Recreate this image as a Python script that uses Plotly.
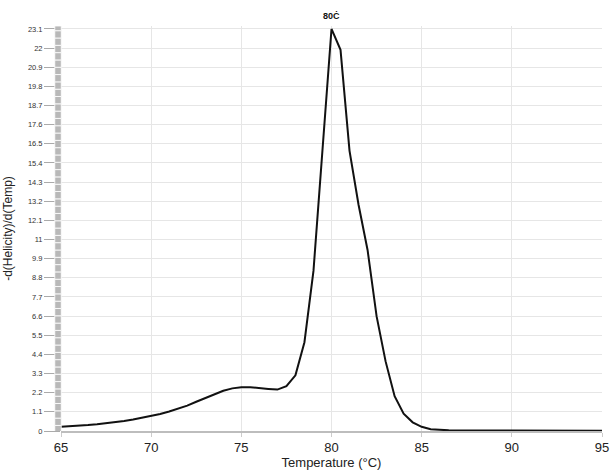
import plotly.graph_objects as go

temperature = [65, 65.5, 66, 66.5, 67, 67.5, 68, 68.5, 69, 69.5, 70, 70.5, 71, 71.5, 72, 72.5,
               73, 73.5, 74, 74.5, 75, 75.5, 76, 76.5, 77, 77.5, 78, 78.5, 79, 79.5, 80, 80.5,
               81, 81.5, 82, 82.5, 83, 83.5, 84, 84.5, 85, 85.5, 86, 86.5, 87, 87.5, 88, 88.5,
               89, 89.5, 90, 90.5, 91, 91.5, 92, 92.5, 93, 93.5, 94, 94.5, 95]
dhelicity = [0.25, 0.27, 0.30, 0.34, 0.39, 0.44, 0.50, 0.58, 0.66, 0.76, 0.86, 0.98, 1.12, 1.28, 1.46, 1.68,
             1.90, 2.12, 2.31, 2.45, 2.52, 2.52, 2.49, 2.42, 2.38, 2.58, 3.2, 5.1, 9.2, 16.4, 23.1, 21.9,
             16.1, 13.0, 10.4, 6.6, 4.0, 2.0, 1.0, 0.5, 0.24, 0.1, 0.05, 0.04, 0.03, 0.03, 0.03, 0.03,
             0.02, 0.02, 0.02, 0.02, 0.02, 0.02, 0.02, 0.02, 0.02, 0.02, 0.02, 0.02, 0.02]
y_ticks = [0, 1.1, 2.2, 3.3, 4.4, 5.5, 6.6, 7.7, 8.8, 9.9, 11, 12.1, 13.2, 14.3, 15.4, 16.5,
           17.6, 18.7, 19.8, 20.9, 22, 23.1]
y_tick_labels = ["0", "1.1", "2.2", "3.3", "4.4", "5.5", "6.6", "7.7", "8.8", "9.9", "11", "12.1",
                 "13.2", "14.3", "15.4", "16.5", "17.6", "18.7", "19.8", "20.9", "22", "23.1"]
x_ticks = [65, 70, 75, 80, 85, 90, 95]
peak_label = "80Ċ"
peak_temp = 80

fig = go.Figure()
fig.add_trace(go.Scatter(x=temperature, y=dhelicity, mode="lines",
                         line=dict(color="#111111", width=2), showlegend=False,
                         hoverinfo="skip"))

# decorative grey segmented bar along the y axis
shapes = []
seg = 0.42
y0 = -0.1
while y0 < 23.27:
    y1 = min(y0 + seg, 23.27)
    shapes.append(dict(type="rect", xref="paper", yref="y", x0=-0.0115, x1=0.0005,
                       y0=y0, y1=y1, fillcolor="#b8b8b8",
                       line=dict(color="white", width=0.8), layer="above"))
    y0 = y1

fig.update_layout(
    width=614, height=476,
    margin=dict(l=61, r=5, t=26, b=45),
    paper_bgcolor="white", plot_bgcolor="white",
    font=dict(family="Liberation Sans, Arial, sans-serif", color="#222"),
    shapes=shapes,
    xaxis=dict(range=[65, 95], tickvals=x_ticks, ticktext=[str(v) for v in x_ticks],
               showgrid=True, gridcolor="#e6e6e6", gridwidth=1,
               showline=True, linecolor="#bdbdbd", linewidth=1.5,
               ticks="outside", ticklen=4, tickcolor="#cccccc",
               tickfont=dict(size=13, color="#222"), zeroline=False,
               ticklabeloverflow="allow",
               title=dict(text="Temperature (°C)", font=dict(size=13, color="#222"), standoff=4)),
    yaxis=dict(range=[0, 23.27], tickvals=y_ticks, ticktext=y_tick_labels,
               showgrid=True, gridcolor="#e6e6e6", gridwidth=1,
               showline=False, ticks="outside", ticklen=16, tickcolor="#aaaaaa",
               tickfont=dict(size=7.5, color="#333"), zeroline=False,
               title=dict(text="-d(Helicity)/d(Temp)", font=dict(size=12, color="#222"), standoff=12)),
    annotations=[dict(x=peak_temp, y=1, xref="x", yref="paper", text="<b>" + peak_label + "</b>",
                      showarrow=False, yanchor="bottom", yshift=3,
                      font=dict(size=9, color="#111"))],
)

fig.write_html("out.html", config={"displayModeBar": False},
               post_script="document.body.style.margin='0';document.body.style.overflow='hidden';")
